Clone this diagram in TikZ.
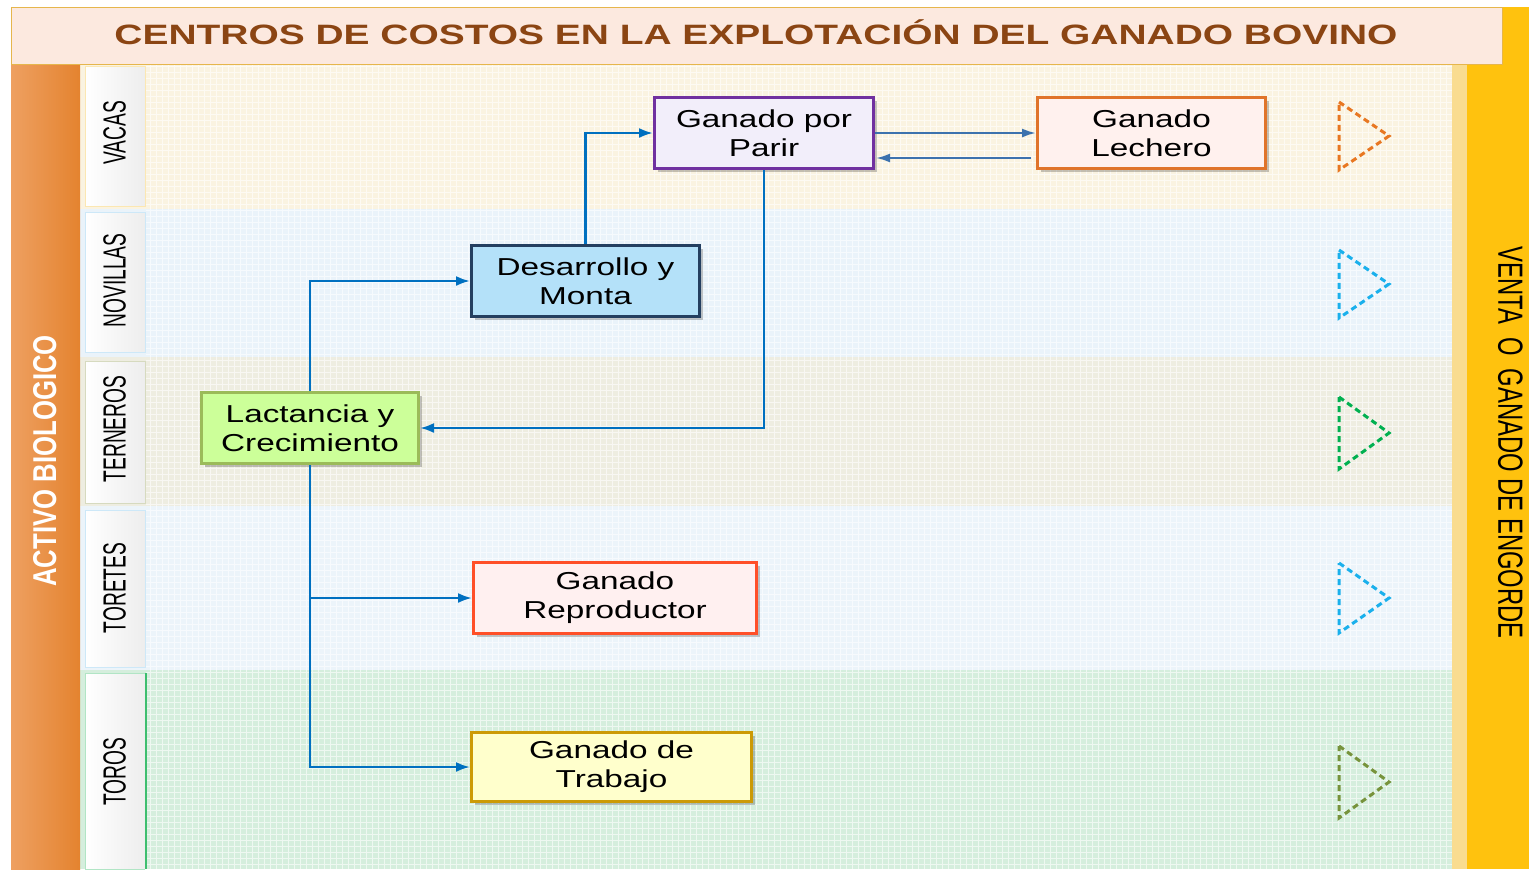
\documentclass[tikz,border=0pt]{standalone}
\usepackage{fontspec}
\setmainfont{Liberation Sans}
\newfontfamily\widef[FakeStretch=1.36]{Liberation Sans}
\newfontfamily\titlefont[FakeStretch=1.39]{Liberation Sans}
\newfontfamily\narrowf[FakeStretch=0.6]{Liberation Sans}
\newfontfamily\actf[FakeStretch=0.78]{Liberation Sans}
\newfontfamily\ventaf[FakeStretch=0.68]{Liberation Sans}
\usetikzlibrary{arrows.meta,shadows}
\definecolor{titlefill}{HTML}{FCE9DF}
\definecolor{titledraw}{HTML}{E6B64C}
\definecolor{titletext}{HTML}{8B4513}
\definecolor{orL}{HTML}{EEA061}
\definecolor{orR}{HTML}{E4832F}
\definecolor{goldbar}{HTML}{FFC20E}
\definecolor{stripc}{HTML}{F9DC90}
\definecolor{bandA}{HTML}{FAF3E1}
\definecolor{bandB}{HTML}{EAF3FA}
\definecolor{bandC}{HTML}{EEEDE1}
\definecolor{bandD}{HTML}{ECF4FA}
\definecolor{bandE}{HTML}{D5EEDD}
\definecolor{lblA}{HTML}{FBE7B2}
\definecolor{lblB}{HTML}{CDE8F8}
\definecolor{lblC}{HTML}{D6DABF}
\definecolor{lblE}{HTML}{3DBE6E}
\definecolor{conn}{HTML}{0070C0}
\definecolor{conntwo}{HTML}{3C72AE}
\definecolor{parirD}{HTML}{7030A0}\definecolor{parirF}{HTML}{F2EEFA}
\definecolor{lechD}{HTML}{E0742A}\definecolor{lechF}{HTML}{FFF1EE}
\definecolor{desD}{HTML}{243F60}\definecolor{desF}{HTML}{B4E1F9}
\definecolor{lacD}{HTML}{9BBB59}\definecolor{lacF}{HTML}{CCFF99}
\definecolor{repD}{HTML}{FF4F28}\definecolor{repF}{HTML}{FFF0F0}
\definecolor{traD}{HTML}{CC9A06}\definecolor{traF}{HTML}{FFFFCC}
\definecolor{triA}{HTML}{E87722}
\definecolor{triB}{HTML}{1AB0EC}
\definecolor{triC}{HTML}{00B050}
\definecolor{triE}{HTML}{77933C}
\tikzset{
  box/.style={draw, line width=3bp, minimum height=71bp, inner sep=0pt,
    align=center, font=\widef\fontsize{24.5bp}{29bp}\selectfont,
    drop shadow={shadow xshift=3bp, shadow yshift=-3bp, opacity=0.22, fill=black}},
  rowlbl/.style={rotate=90, inner sep=0pt, font=\narrowf\fontsize{32bp}{36bp}\selectfont},
  lblbox/.style={left color=white, right color=black!7},
  link/.style={draw=conn, line width=2.4bp, -{Latex[length=14bp,width=10bp]}},
  linktwo/.style={draw=conntwo, line width=2.2bp, -{Latex[length=14bp,width=9bp]}},
  tri/.style={line width=3bp, dash pattern=on 6bp off 4bp, line join=miter}
}
\begin{document}
\begin{tikzpicture}[x=1bp,y=-1bp]
\useasboundingbox (0,0) rectangle (1529,869);
\fill[white] (0,0) rectangle (1529,869);
% bands
\fill[bandA] (80,64) rectangle (1452,209);
\fill[bandB] (80,209) rectangle (1452,357);
\fill[bandC] (80,357) rectangle (1452,506);
\fill[bandD] (80,506) rectangle (1452,670);
\fill[bandE] (80,670) rectangle (1452,869);
\draw[white, opacity=0.6, line width=0.6bp, step=6bp] (146,64) grid (1452,869);
% right strips
\fill[stripc] (1452,64) rectangle (1467,869);
\fill[goldbar] (1467,7) rectangle (1529,869);
% left bar
\shade[left color=orL, right color=orR] (11,64) rectangle (80,869);
% title
\draw[draw=titledraw, fill=titlefill, line width=1bp] (11,7) rectangle (1502,64);
\node[anchor=base, inner sep=0pt, text=titletext, font=\titlefont\bfseries\fontsize{28bp}{32bp}\selectfont] (title) at (756,44) {CENTROS DE COSTOS EN LA EXPLOTACIÓN DEL GANADO BOVINO};
% row label boxes
\shade[lblbox] (85,66) rectangle (145,206);
\draw[lblA, line width=1bp] (85,66) rectangle (145,206);
\shade[lblbox] (85,212) rectangle (145,352);
\draw[lblB, line width=1bp] (85,212) rectangle (145,352);
\shade[lblbox] (85,361) rectangle (145,503);
\draw[lblC, line width=1bp] (85,361) rectangle (145,503);
\shade[lblbox] (85,510) rectangle (145,667);
\draw[lblB, line width=1bp] (85,510) rectangle (145,667);
\shade[lblbox] (85,673) rectangle (145,869);
\draw[lblE!40, line width=1bp] (145,869) -- (85,869) -- (85,673) -- (145,673);
\draw[lblE, line width=2bp] (146,673) -- (146,869);
\node[rowlbl] (vacas) at (114.5,133) {VACAS};
\node[rowlbl] (novillas) at (114.5,280.5) {NOVILLAS};
\node[rowlbl] (terneros) at (114.5,429) {TERNEROS};
\node[rowlbl] (toretes) at (114.5,588) {TORETES};
\node[rowlbl] (toros) at (114.5,772) {TOROS};
% side texts
\node[rotate=90, inner sep=0pt, text=white, font=\actf\bfseries\fontsize{33bp}{36bp}\selectfont] (activo) at (44.7,461) {ACTIVO BIOLOGICO};
\node[rotate=-90, inner sep=0pt, text=black, font=\ventaf\fontsize{35bp}{38bp}\selectfont] (venta) at (1510.5,442.5) {VENTA\ \ O\ \ GANADO DE ENGORDE};
% boxes
\node[box, draw=parirD, fill=parirF, minimum width=219bp] (parir) at (764,133) {Ganado por\\Parir};
\node[box, draw=lechD, fill=lechF, minimum width=228bp] (lech) at (1151.5,133) {Ganado\\Lechero};
\node[box, draw=desD, fill=desF, minimum width=228bp] (des) at (585.5,281) {Desarrollo y\\Monta};
\node[box, draw=lacD, fill=lacF, minimum width=217bp] (lact) at (310,428) {Lactancia y\\Crecimiento};
\node[box, draw=repD, fill=repF, minimum width=283bp] (repro) at (615,598) {Ganado\\Reproductor};
\node[box, draw=traD, fill=traF, minimum width=280bp, minimum height=69bp] (trab) at (611.5,767) {Ganado de\\Trabajo};
% connectors
\draw[link] (lact.north) |- (des.west);
\draw[link] (des.north) |- (parir.west);
\draw[link] (parir.south) |- (lact.east);
\draw[link] (lact.south) |- (repro.west);
\draw[link] (lact.south) |- (trab.west);
\draw[linktwo] (parir.east) -- (lech.west);
\draw[linktwo] ([xshift=-5bp,yshift=-25bp]lech.west) -- ([xshift=1bp,yshift=-25bp]parir.east);
% dashed triangles
\draw[tri, triA] (1339,102) -- (1389,136) -- (1339,170) -- cycle;
\draw[tri, triB] (1339,250) -- (1389,284) -- (1339,318) -- cycle;
\draw[tri, triC] (1339,397) -- (1389,433) -- (1339,469) -- cycle;
\draw[tri, triB] (1339,563) -- (1389,598) -- (1339,633) -- cycle;
\draw[tri, triE] (1339,746) -- (1389,782) -- (1339,818) -- cycle;
\end{tikzpicture}
\end{document}
